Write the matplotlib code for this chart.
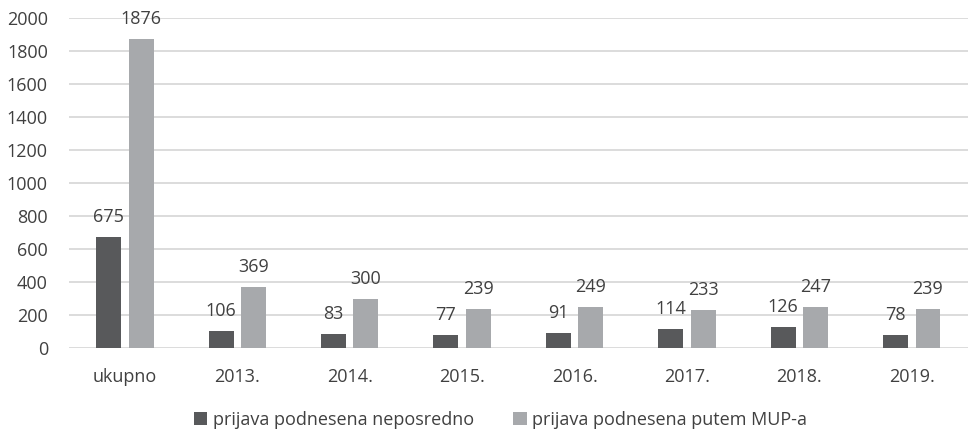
import matplotlib.pyplot as plt
import numpy as np

categories = ["ukupno", "2013.", "2014.", "2015.", "2016.", "2017.", "2018.", "2019."]
neposredno = [675, 106, 83, 77, 91, 114, 126, 78]
putem_mup = [1876, 369, 300, 239, 249, 233, 247, 239]
series_names = ["prijava podnesena neposredno", "prijava podnesena putem MUP-a"]
yticks = [0, 200, 400, 600, 800, 1000, 1200, 1400, 1600, 1800, 2000]

DARK = "#58595b"
LIGHT = "#a7a9ac"
TEXT = "#404040"
FS = 13

plt.rcParams["font.family"] = ["Open Sans", "DejaVu Sans"]

fig = plt.figure(figsize=(9.68, 4.33), dpi=100)
ax = fig.add_axes([0.071, 0.196, 0.929, 0.762])

x = np.arange(len(categories))
w = 0.222
off = 0.144
b1 = ax.bar(x - off, neposredno, w, color=DARK, label=series_names[0], zorder=3)
b2 = ax.bar(x + off, putem_mup, w, color=LIGHT, label=series_names[1], zorder=3)

for bars, vals in ((b1, neposredno), (b2, putem_mup)):
    for rect, v in zip(bars, vals):
        ax.annotate(str(v), (rect.get_x() + rect.get_width() / 2, rect.get_height()),
                    xytext=(0, 8), textcoords="offset points",
                    ha="center", va="bottom", fontsize=FS, color=TEXT)

ax.set_xlim(-0.5, len(categories) - 0.5)
ax.set_ylim(0, 2000)
ax.set_yticks(yticks)
ax.set_xticks(x)
ax.set_xticklabels(categories)
ax.tick_params(axis="both", length=0, labelsize=FS, labelcolor=TEXT)
ax.tick_params(axis="x", pad=14)
ax.tick_params(axis="y", pad=15)
ax.grid(axis="y", color="#d9d9d9", linewidth=1.3, zorder=0)
for s in ax.spines.values():
    s.set_visible(False)

fig.legend(loc="center", bbox_to_anchor=(0.517, 0.03), ncol=2, frameon=False,
           fontsize=FS, handlelength=0.75, handleheight=0.75, handletextpad=0.3,
           columnspacing=2.2, labelcolor=TEXT)

fig.savefig("out.png", dpi=100)
